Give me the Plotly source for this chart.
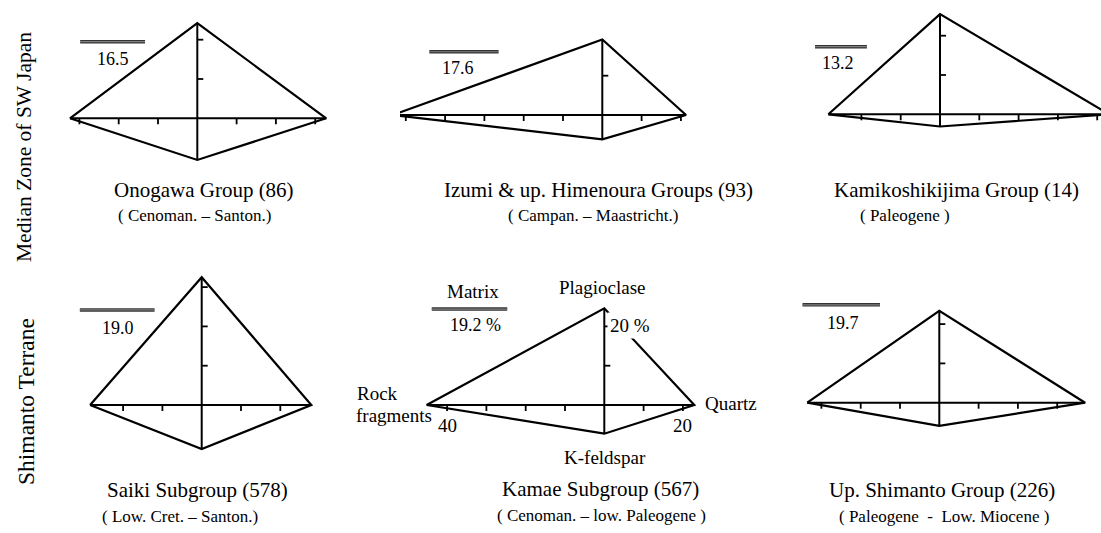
import plotly.graph_objects as go

# Framework composition of sandstones (percent of framework grains) and matrix content
groups = [
    "Onogawa Group (86)",
    "Izumi & up. Himenoura Groups (93)",
    "Kamikoshikijima Group (14)",
    "Saiki Subgroup (578)",
    "Kamae Subgroup (567)",
    "Up. Shimanto Group (226)",
]
ages = [
    "( Cenoman. – Santon.)",
    "( Campan. – Maastricht.)",
    "( Paleogene )",
    "( Low. Cret. – Santon.)",
    "( Cenoman. – low. Paleogene )",
    "( Paleogene  -  Low. Miocene )",
]
plagioclase = [24.2, 19.2, 25.5, 32.5, 24.6, 23.4]
quartz = [32.8, 21.3, 43.0, 27.9, 22.9, 37.1]
rock_fragments = [32.4, 53.3, 28.4, 28.4, 45.2, 33.6]
k_feldspar = [10.6, 6.2, 3.1, 11.2, 7.3, 5.9]
matrix = [16.5, 17.6, 13.2, 19.0, 19.2, 19.7]
matrix_labels = ["16.5", "17.6", "13.2", "19.0", "19.2 %", "19.7"]
row_labels = ["Median Zone of SW Japan", "Shimanto Terrane"]

W, H = 1101, 533
S = 3.93  # pixels per percent on every diagram

# diagram origins (px) and the page cell each diagram occupies
origins = [(197.3, 118.3), (602.3, 115.0), (940.0, 114.3),
           (201.7, 405.0), (604.3, 405.0), (939.3, 402.7)]
col_bounds = [(0, 400), (400, 770), (770, W)]
row_bounds = [(0, 266), (266, H)]
# matrix bar anchor (left end) and its label centre, in percent units from origin
bar_pos = [(-29.8, 19.5), (-44.0, 16.1), (-31.8, 17.2),
           (-31.0, 24.2), (-43.9, 24.4), (-34.8, 24.9)]
bar_label_pos = [(-21.5, 15.1), (-36.6, 11.9), (-25.9, 13.0),
                 (-21.2, 19.5), (-32.9, 20.4), (-24.6, 20.2)]
# title centres in px
title_pos = [(204, 190), (598, 190), (956, 190), (197, 490), (600, 489), (942, 490)]
age_pos = [(194, 215), (593, 215), (905, 215), (180, 516), (601, 515), (944, 516)]

FONT = "Liberation Serif"
TICK = 6.0 / S  # tick length in percent units


def paper_text(px, py, text, size, **kw):
    """Text centred on a page position given in pixels."""
    d = dict(x=px / W, y=1 - py / H, xref="paper", yref="paper", text=text,
             showarrow=False, xanchor="center", yanchor="middle",
             font=dict(family=FONT, size=size, color="black"))
    d.update(kw)
    return d


fig = go.Figure()
annotations = []
layout_axes = {}

for i in range(6):
    n = "" if i == 0 else str(i + 1)
    xa, ya = "x" + n, "y" + n
    ox, oy = origins[i]
    cx0, cx1 = col_bounds[i % 3]
    cy0, cy1 = row_bounds[i // 3]
    layout_axes["xaxis" + n] = dict(
        domain=[cx0 / W, cx1 / W], range=[(cx0 - ox) / S, (cx1 - ox) / S],
        visible=False, fixedrange=True, anchor=ya)
    layout_axes["yaxis" + n] = dict(
        domain=[1 - cy1 / H, 1 - cy0 / H], range=[(oy - cy1) / S, (oy - cy0) / S],
        visible=False, fixedrange=True, anchor=xa)

    p, q, rf, kf = plagioclase[i], quartz[i], rock_fragments[i], k_feldspar[i]

    # axes through the origin (vertex to vertex)
    fig.add_trace(go.Scatter(
        x=[-rf, q, None, 0, 0], y=[0, 0, None, -kf, p],
        mode="lines", line=dict(color="black", width=2),
        xaxis=xa, yaxis=ya, hoverinfo="skip", showlegend=False))

    # 10 % ticks: downward on the horizontal axis, rightward on the vertical one
    tx, ty = [], []
    k = 10
    while k <= rf:
        tx += [-k, -k, None]; ty += [0, -TICK, None]; k += 10
    k = 10
    while k <= q:
        tx += [k, k, None]; ty += [0, -TICK, None]; k += 10
    k = 10
    while k <= p:
        tx += [0, TICK, None]; ty += [k, k, None]; k += 10
    fig.add_trace(go.Scatter(
        x=tx, y=ty, mode="lines", line=dict(color="black", width=1.8),
        xaxis=xa, yaxis=ya, hoverinfo="skip", showlegend=False))

    # composition kite
    fig.add_trace(go.Scatter(
        x=[-rf, 0, q, 0, -rf], y=[0, p, 0, -kf, 0],
        mode="lines", line=dict(color="black", width=2.2),
        xaxis=xa, yaxis=ya, hoverinfo="skip", showlegend=False))

    # matrix bar
    bx, by = bar_pos[i]
    fig.add_trace(go.Scatter(
        x=[bx, bx + matrix[i]], y=[by, by], mode="lines",
        line=dict(color="#333333", width=3.5),
        xaxis=xa, yaxis=ya, hoverinfo="skip", showlegend=False))
    fig.add_trace(go.Scatter(
        x=[bx, bx + matrix[i]], y=[by, by], mode="lines",
        line=dict(color="#808080", width=1.2),
        xaxis=xa, yaxis=ya, hoverinfo="skip", showlegend=False))
    lx, ly = bar_label_pos[i]
    annotations.append(dict(
        x=lx, y=ly, xref=xa, yref=ya, text=matrix_labels[i], showarrow=False,
        font=dict(family=FONT, size=18, color="black")))

    annotations.append(paper_text(*title_pos[i], groups[i], 21))
    annotations.append(paper_text(*age_pos[i], ages[i], 17))

# end-member labels on the Kamae diagram
kx, ky = "x5", "y5"
lab = dict(showarrow=False, font=dict(family=FONT, size=19, color="black"))
annotations += [
    dict(x=-33.3, y=28.8, xref=kx, yref=ky, text="Matrix", **lab),
    dict(x=-0.5, y=30.0, xref=kx, yref=ky, text="Plagioclase", **lab),
    dict(x=6.6, y=20.3, xref=kx, yref=ky, text="20 %", bgcolor="white",
         borderpad=2, **lab),
    dict(x=-40, y=-5.3, xref=kx, yref=ky, text="40", **lab),
    dict(x=20, y=-5.3, xref=kx, yref=ky, text="20", **lab),
    dict(x=25.2, y=0.4, xref=kx, yref=ky, text="Quartz", xanchor="left", **lab),
    dict(x=0.2, y=-13.3, xref=kx, yref=ky, text="K-feldspar", **lab),
    paper_text(377, 393, "Rock", 19),
    paper_text(394, 415, "fragments", 19),
]

# row captions on the left margin
annotations += [
    paper_text(24, 147, row_labels[0], 21.5, textangle=-90),
    paper_text(26, 402, row_labels[1], 23.5, textangle=-90),
]

fig.update_layout(
    width=W, height=H, margin=dict(l=0, r=0, t=0, b=0),
    paper_bgcolor="white", plot_bgcolor="rgba(0,0,0,0)",
    showlegend=False, annotations=annotations, **layout_axes)

fig.write_html("out.html", config={"displayModeBar": False})
